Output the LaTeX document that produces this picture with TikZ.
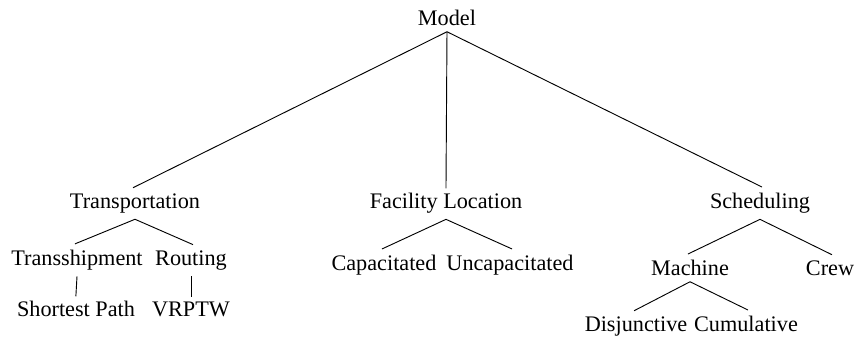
\documentclass[tikz,border=0pt]{standalone}
\usepackage{fontspec}
\setmainfont{Liberation Serif}
\usepackage{tikz}
\begin{document}
\begin{tikzpicture}[x=0.54pt,y=-0.54pt,
    item/.style={anchor=base,font=\fontsize{12}{14}\selectfont},
    branch/.style={line width=0.5pt,shorten >=-1.2pt}]
        \useasboundingbox (0,0) rectangle (856,337);
        % top and first level
        \node[item] (model) at (447,25) {Model};
        \node[item] (transp) at (135,208) {Transportation};
        \node[item] (facloc) at (446,208) {Facility Location};
        \node[item] (sched) at (760,208) {Scheduling};
        % second level
        \node[item] (transship) at (77,265) {Transshipment};
        \node[item] (routing) at (191,265) {Routing};
        \node[item] (capac) at (384,270) {Capacitated};
        \node[item] (uncap) at (510,270) {Uncapacitated};
        \node[item] (machine) at (690,275) {Machine};
        \node[item] (crew) at (830,275) {Crew};
        % third level
        \node[item] (shortest) at (76,316) {Shortest Path};
        \node[item] (vrptw) at (191,316) {VRPTW};
        \node[item] (disj) at (636,331) {Disjunctive};
        \node[item] (cumul) at (746,331) {Cumulative};
        % branches
        \draw[branch] (model.south) -- (transp.north);
        \draw[branch] (model.south) -- (facloc.north);
        \draw[branch] (model.south) -- (sched.north);
        \draw[branch] (transp.south) -- (transship.north);
        \draw[branch] (transp.south) -- (routing.north);
        \draw[branch] (transship.south) -- (shortest.north);
        \draw[branch] (routing.south) -- (vrptw.north);
        \draw[branch] (facloc.south) -- (capac.north);
        \draw[branch] (facloc.south) -- (uncap.north);
        \draw[branch] (sched.south) -- (machine.north);
        \draw[branch] (sched.south) -- (crew.north);
        \draw[branch] (machine.south) -- (disj.north);
        \draw[branch] (machine.south) -- (cumul.north);
      \end{tikzpicture}
\end{document}
